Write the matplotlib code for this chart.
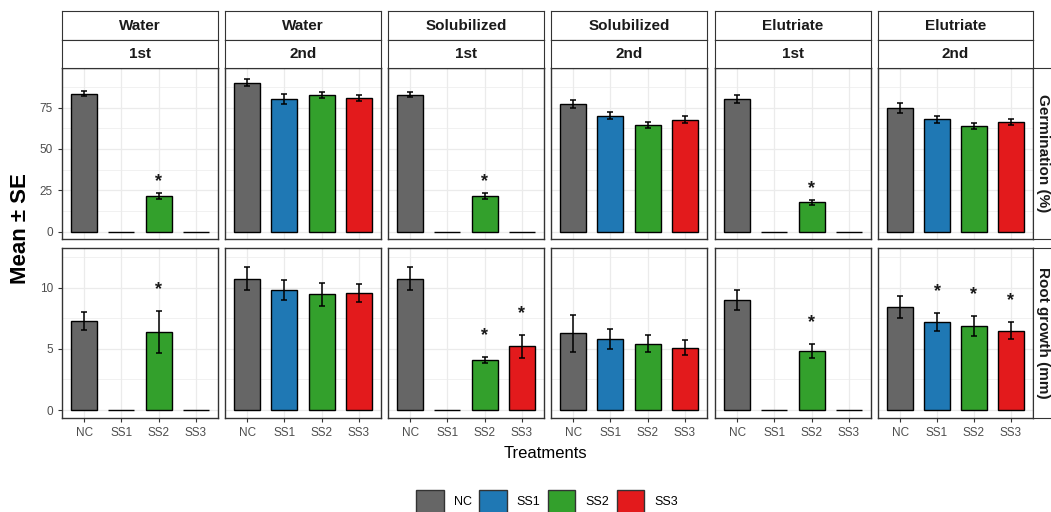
import numpy as np
import matplotlib
matplotlib.use("Agg")
import matplotlib.pyplot as plt
from matplotlib.patches import Patch

plt.rcParams['font.family'] = ['Liberation Sans', 'DejaVu Sans']

# facets: extract type x cycle
extracts = ["Water", "Water", "Solubilized", "Solubilized", "Elutriate", "Elutriate"]
cycles = ["1st", "2nd", "1st", "2nd", "1st", "2nd"]
treatments = ["NC", "SS1", "SS2", "SS3"]
colors = ["#666666", "#1F78B4", "#33A02C", "#E31A1C"]

# germination (%) mean and SE per facet
germ_mean = [[83.3, 0, 21.6, 0],
             [90.1, 80.3, 82.7, 80.9],
             [82.7, 0, 21.6, 0],
             [77.3, 70.2, 64.7, 67.8],
             [80.3, 0, 17.8, 0],
             [74.8, 68.0, 63.9, 66.4]]
germ_se = [[1.5, 0, 2.0, 0],
           [2.2, 3.2, 2.0, 2.0],
           [1.5, 0, 2.0, 0],
           [2.5, 2.2, 1.9, 1.9],
           [2.5, 0, 1.6, 0],
           [2.8, 2.0, 1.7, 2.0]]
germ_sig = [[0, 0, 1, 0], [0, 0, 0, 0], [0, 0, 1, 0],
            [0, 0, 0, 0], [0, 0, 1, 0], [0, 0, 0, 0]]

# root growth (mm) mean and SE per facet
root_mean = [[7.3, 0, 6.38, 0],
             [10.74, 9.81, 9.48, 9.59],
             [10.74, 0, 4.09, 5.23],
             [6.27, 5.83, 5.42, 5.1],
             [8.97, 0, 4.82, 0],
             [8.45, 7.2, 6.87, 6.49]]
root_se = [[0.73, 0, 1.7, 0],
           [0.95, 0.8, 0.94, 0.72],
           [0.95, 0, 0.27, 0.94],
           [1.5, 0.8, 0.7, 0.6],
           [0.83, 0, 0.6, 0],
           [0.9, 0.72, 0.83, 0.72]]
root_sig = [[0, 0, 1, 0], [0, 0, 0, 0], [0, 0, 1, 1],
            [0, 0, 0, 0], [0, 0, 1, 0], [0, 1, 1, 1]]

rows = [
    dict(mean=germ_mean, se=germ_se, sig=germ_sig, label="Germination (%)",
         ylim=(-4.5, 99), major=[0, 25, 50, 75], minor=[12.5, 37.5, 62.5, 87.5], star=6.5),
    dict(mean=root_mean, se=root_se, sig=root_sig, label="Root growth (mm)",
         ylim=(-0.65, 13.25), major=[0, 5, 10], minor=[2.5, 7.5, 12.5], star=1.75),
]

W, H = 1051, 512
fig = plt.figure(figsize=(W / 100, H / 100), dpi=100)


def rect(x0, y0, x1, y1):
    return [x0 / W, 1 - y1 / H, (x1 - x0) / W, (y1 - y0) / H]


col_x = [(62, 218), (225, 381), (388, 544), (551, 707), (715, 871), (878, 1033)]
row_y = [(68, 239), (248, 418)]
border = "#333333"
x = np.arange(1, 5)

for r, row in enumerate(rows):
    for c, (x0, x1) in enumerate(col_x):
        y0, y1 = row_y[r]
        ax = fig.add_axes(rect(x0, y0, x1, y1))
        m = np.array(row["mean"][c])
        s = np.array(row["se"][c])
        ax.bar(x, m, width=0.7, color=colors, edgecolor="black", linewidth=1.0, zorder=3)
        ok = s > 0
        ax.errorbar(x[ok], m[ok], yerr=s[ok], fmt="none", ecolor="black",
                    elinewidth=1.1, capsize=2.4, capthick=1.1, zorder=4)
        for i in range(4):
            if row["sig"][c][i]:
                ax.text(x[i], m[i] + s[i] + row["star"], "*", ha="center", va="center",
                        fontsize=13, fontweight="bold", color="#1A1A1A", zorder=5)
        ax.set_xlim(0.4, 4.6)
        ax.set_ylim(*row["ylim"])
        ax.set_yticks(row["major"])
        ax.set_yticks(row["minor"], minor=True)
        ax.set_xticks(x)
        ax.grid(True, which="major", color="#EBEBEB", linewidth=0.9, zorder=0)
        ax.grid(True, which="minor", axis="y", color="#EBEBEB", linewidth=0.5, zorder=0)
        ax.set_axisbelow(True)
        for sp in ax.spines.values():
            sp.set_color(border)
            sp.set_linewidth(1.0)
        ax.tick_params(which="minor", left=False)
        ax.tick_params(axis="both", colors=border, labelcolor="#4D4D4D",
                       labelsize=8.5, length=3, width=0.8)
        if c == 0:
            ax.set_yticklabels([str(v) for v in row["major"]])
        else:
            ax.tick_params(axis="y", left=False, labelleft=False)
        if r == 1:
            ax.set_xticklabels(treatments)
        else:
            ax.tick_params(axis="x", bottom=False, labelbottom=False)

    # facet label on the right
    sax = fig.add_axes(rect(1033, row_y[r][0], 1062, row_y[r][1]))
    sax.set_xticks([])
    sax.set_yticks([])
    for sp in sax.spines.values():
        sp.set_color(border)
    sax.text(0.33, 0.5, row["label"], rotation=-90, ha="center", va="center",
             fontsize=11, fontweight="bold", color="#1A1A1A", transform=sax.transAxes)

# facet labels on top
for c, (x0, x1) in enumerate(col_x):
    for k, (txt, (y0, y1)) in enumerate([(extracts[c], (11, 40)), (cycles[c], (40, 68))]):
        sax = fig.add_axes(rect(x0, y0, x1, y1))
        sax.set_xticks([])
        sax.set_yticks([])
        for sp in sax.spines.values():
            sp.set_color(border)
        sax.text(0.5, 0.5, txt, ha="center", va="center", fontsize=11,
                 fontweight="bold", color="#1A1A1A", transform=sax.transAxes)

fig.text(545 / W, 1 - 453 / H, "Treatments", ha="center", va="center", fontsize=12)
fig.text(21 / W, 1 - 229 / H, "Mean ± SE", ha="center", va="center", rotation=90,
         fontsize=16, fontweight="bold")

handles = [Patch(facecolor=col, edgecolor="#333333", linewidth=1.0) for col in colors]
fig.legend(handles, treatments, loc="upper center", bbox_to_anchor=(547 / W, 1 - 485 / H),
           ncol=4, frameon=False, fontsize=9, handlelength=2.2, handleheight=2.4,
           handletextpad=0.8, columnspacing=0.6, borderaxespad=0)

fig.savefig("out.png", dpi=100)
